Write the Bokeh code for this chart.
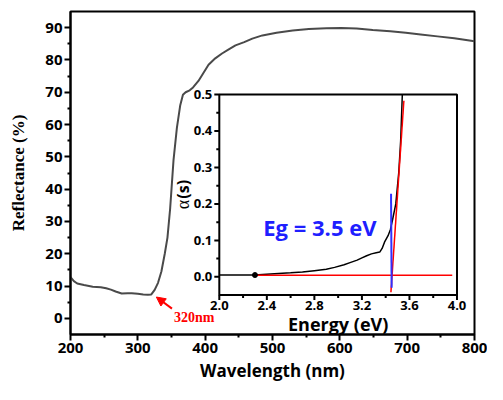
import math
from bokeh.plotting import figure
from bokeh.models import Range1d, FixedTicker, Arrow, NormalHead, Label
from bokeh.core.properties import value
from bokeh.embed import file_html
from bokeh.resources import INLINE

# ---------------- data ----------------
wavelength = [200, 205, 210, 220, 233, 245, 253, 260, 267, 276, 285, 291, 300, 308, 315, 320,
              325, 330, 335, 340, 344, 348, 353, 358, 363, 367, 371, 377, 382, 390, 396, 405,
              415, 425, 435, 445, 458, 470, 485, 506, 530, 554, 580, 602, 625, 649, 675, 698,
              720, 745, 770, 790, 800]
reflectance = [12.8, 11.5, 10.8, 10.3, 9.8, 9.6, 9.3, 8.9, 8.3, 7.7, 7.8, 7.8, 7.6, 7.4, 7.3, 7.4,
               8.8, 11.0, 14.5, 20.0, 25.0, 34.0, 49.0, 59.0, 66.0, 69.2, 70.0, 70.6, 71.5, 73.5, 75.5, 78.5,
               80.5, 82.0, 83.3, 84.5, 85.5, 86.6, 87.6, 88.4, 89.1, 89.6, 89.8, 89.9, 89.7, 89.3, 88.9, 88.4,
               87.9, 87.3, 86.7, 86.1, 85.8]

energy = [2.0, 2.3, 2.43, 2.6, 2.7, 2.8, 2.9, 2.97, 3.05, 3.1, 3.16, 3.2, 3.24, 3.28, 3.32,
          3.35, 3.37, 3.39, 3.42, 3.44, 3.46, 3.485, 3.51, 3.526, 3.54]
alpha = [0.005, 0.005, 0.008, 0.011, 0.013, 0.017, 0.021, 0.026, 0.033, 0.039, 0.046, 0.052,
         0.058, 0.063, 0.066, 0.068, 0.078, 0.095, 0.113, 0.13, 0.16, 0.2, 0.286, 0.373, 0.5]

fit_E = [3.444, 3.553]
fit_a = [-0.042, 0.483]
base_E = [2.29, 3.96]
base_a = [0.0045, 0.0045]
eg_E = [3.445, 3.45]
eg_a = [0.228, -0.03]
start_E = [2.3]
start_a = [0.005]

main_xticks = [200, 300, 400, 500, 600, 700, 800]
main_xminor = [250, 350, 450, 550, 650, 750]
main_yticks = [0, 10, 20, 30, 40, 50, 60, 70, 80, 90]
main_yminor = [5, 15, 25, 35, 45, 55, 65, 75, 85]

inset_xticks = [2.0, 2.4, 2.8, 3.2, 3.6, 4.0]
inset_xlabels = ["2.0", "2.4", "2.8", "3.2", "3.6", "4.0"]
inset_xminor = [2.2, 2.6, 3.0, 3.4, 3.8]
inset_yticks = [0.0, 0.1, 0.2, 0.3, 0.4, 0.5]
inset_ylabels = ["0.0", "0.1", "0.2", "0.3", "0.4", "0.5"]
inset_yminor = [0.05, 0.15, 0.25, 0.35, 0.45]

# ---------------- layout constants ----------------
X_MAIN = (200, 800)
Y_MAIN = (-5, 95)
X_IN = (2.0, 4.0)
Y_IN = (-0.05, 0.5)
BOX_X = (421, 774)   # inset frame position in main data coords
BOX_Y = (7.2, 69.3)

def mapped(main, box, inner):
    s = (inner[1] - inner[0]) / (box[1] - box[0])
    return (inner[0] - (box[0] - main[0]) * s, inner[1] + (main[1] - box[1]) * s)

p = figure(width=487, height=384, x_range=Range1d(*X_MAIN), y_range=Range1d(*Y_MAIN),
           output_backend="svg", toolbar_location=None,
           min_border_left=70, min_border_right=13, min_border_top=11, min_border_bottom=0)
p.grid.visible = False
p.outline_line_color = "black"
p.outline_line_width = 2
p.background_fill_color = "white"
p.border_fill_color = "white"

for ax, ticks, minor in ((p.xaxis[0], main_xticks, main_xminor), (p.yaxis[0], main_yticks, main_yminor)):
    ax.ticker = FixedTicker(ticks=ticks, minor_ticks=minor)
    ax.major_tick_in = 0
    ax.major_tick_out = 6
    ax.minor_tick_in = 0
    ax.minor_tick_out = 3
    ax.axis_line_width = 2
    ax.major_tick_line_width = 2
    ax.minor_tick_line_width = 2
    ax.major_label_text_font = "Open Sans"
    ax.major_label_text_font_style = "bold"
    ax.major_label_text_font_size = "15px"
    ax.major_label_text_color = "black"
    ax.major_label_standoff = 2
    ax.axis_label_text_color = "black"

p.xaxis.axis_label = "Wavelength (nm)"
p.xaxis.axis_label_text_font = "Open Sans"
p.xaxis.axis_label_text_font_style = "bold"
p.xaxis.axis_label_text_font_size = "17px"
p.xaxis.axis_label_standoff = 3
p.yaxis.axis_label = "Reflectance (%)"
p.yaxis.axis_label_text_font = "Liberation Serif"
p.yaxis.axis_label_text_font_style = "bold"
p.yaxis.axis_label_text_font_size = "17px"
p.yaxis.axis_label_standoff = 14

p.line(wavelength, reflectance, line_color="#4a4a4a", line_width=2)

p.add_layout(Arrow(end=NormalHead(size=9, fill_color="red", line_color="red"),
                   x_start=350.7, y_start=3.0, x_end=327.5, y_end=6.6,
                   line_color="red", line_width=2))
p.add_layout(Label(x=353.6, y=0.4, text="320nm", text_font="Liberation Serif",
                   text_font_style="bold", text_font_size="14px", text_color="red",
                   text_baseline="middle"))

# ---------------- inset ----------------
p.extra_x_ranges = {"E": Range1d(*mapped(X_MAIN, BOX_X, X_IN))}
p.extra_y_ranges = {"a": Range1d(*mapped(Y_MAIN, BOX_Y, Y_IN))}
kw = dict(x_range_name="E", y_range_name="a")

p.quad(left=[X_IN[0]], right=[X_IN[1]], bottom=[Y_IN[0]], top=[Y_IN[1]],
       fill_color="white", line_color="black", line_width=2, **kw)

p.ray(x=inset_xticks, y=[Y_IN[0]] * len(inset_xticks), length=5, length_units="screen",
      angle=-math.pi / 2, line_color="black", line_width=2, **kw)
p.ray(x=inset_xminor, y=[Y_IN[0]] * len(inset_xminor), length=3, length_units="screen",
      angle=-math.pi / 2, line_color="black", line_width=2, **kw)
p.ray(x=[X_IN[0]] * len(inset_yticks), y=inset_yticks, length=5, length_units="screen",
      angle=math.pi, line_color="black", line_width=2, **kw)
p.ray(x=[X_IN[0]] * len(inset_yminor), y=inset_yminor, length=3, length_units="screen",
      angle=math.pi, line_color="black", line_width=2, **kw)

p.text(x=inset_xticks, y=[Y_IN[0]] * len(inset_xticks), text=inset_xlabels, y_offset=6,
       text_align="center", text_baseline="top", text_font=value("Open Sans"),
       text_font_style="bold", text_font_size="13px", text_color="black", **kw)
p.text(x=[X_IN[0]] * len(inset_yticks), y=inset_yticks, text=inset_ylabels, x_offset=-7,
       text_align="right", text_baseline="middle", text_font=value("Open Sans"),
       text_font_style="bold", text_font_size="13px", text_color="black", **kw)
p.text(x=[3.0], y=[Y_IN[0]], text=["Energy (eV)"], y_offset=17, text_align="center",
       text_baseline="top", text_font=value("Open Sans"), text_font_style="bold",
       text_font_size="18px", text_color="black", **kw)
p.text(x=[X_IN[0]], y=[0.198], text=["α"], x_offset=-36, angle=math.pi / 2,
       text_align="center", text_baseline="middle", text_font=value("Liberation Serif"),
       text_font_size="18px", text_color="black", **kw)
p.text(x=[X_IN[0]], y=[0.24], text=["(s)"], x_offset=-36, angle=math.pi / 2,
       text_align="center", text_baseline="middle", text_font=value("Open Sans"),
       text_font_style="bold", text_font_size="16px", text_color="black", **kw)

p.line(energy, alpha, line_color="black", line_width=1.5, **kw)
p.line(base_E, base_a, line_color="red", line_width=1.5, **kw)
p.line(fit_E, fit_a, line_color="red", line_width=1.5, **kw)
p.line(eg_E, eg_a, line_color="#3030ff", line_width=2, **kw)
p.scatter(start_E, start_a, size=5, color="black", **kw)

p.text(x=[2.37], y=[0.136], text=["Eg = 3.5 eV"], text_align="left", text_baseline="middle",
       text_font=value("Open Sans"), text_font_style="bold", text_font_size="22px",
       text_color="#1f1fff", **kw)

open("out.html", "w").write(file_html(p, INLINE))
